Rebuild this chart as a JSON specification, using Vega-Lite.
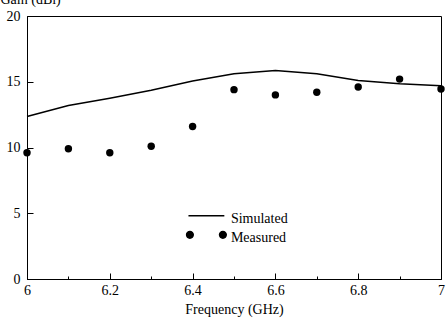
{
  "$schema": "https://vega.github.io/schema/vega-lite/v6.json",
  "width": 414,
  "height": 263,
  "autosize": {"type": "none"},
  "padding": {"left": 27, "top": 16, "right": 5, "bottom": 39},
  "background": "white",
  "config": {
    "font": "Times New Roman",
    "view": {"stroke": "black", "strokeWidth": 1},
    "text": {"font": "Times New Roman"},
    "axis": {
      "domainColor": "black", "tickColor": "black", "labelColor": "black", "titleColor": "black",
      "labelFont": "Times New Roman", "titleFont": "Times New Roman",
      "labelFontSize": 14, "titleFontSize": 14, "titleFontWeight": "normal",
      "grid": false, "domainWidth": 1, "tickWidth": 1, "labelOverlap": false, "labelFlush": false
    },
    "legend": {"labelFont": "Times New Roman"}
  },
  "data": {
    "values": [
      {"freq": 6.0, "gain": 12.35, "series": "Simulated"},
      {"freq": 6.1, "gain": 13.2, "series": "Simulated"},
      {"freq": 6.2, "gain": 13.75, "series": "Simulated"},
      {"freq": 6.3, "gain": 14.35, "series": "Simulated"},
      {"freq": 6.4, "gain": 15.05, "series": "Simulated"},
      {"freq": 6.5, "gain": 15.6, "series": "Simulated"},
      {"freq": 6.6, "gain": 15.85, "series": "Simulated"},
      {"freq": 6.7, "gain": 15.6, "series": "Simulated"},
      {"freq": 6.8, "gain": 15.1, "series": "Simulated"},
      {"freq": 6.9, "gain": 14.85, "series": "Simulated"},
      {"freq": 7.0, "gain": 14.7, "series": "Simulated"},
      {"freq": 6.0, "gain": 9.6, "series": "Measured"},
      {"freq": 6.1, "gain": 9.9, "series": "Measured"},
      {"freq": 6.2, "gain": 9.6, "series": "Measured"},
      {"freq": 6.3, "gain": 10.1, "series": "Measured"},
      {"freq": 6.4, "gain": 11.6, "series": "Measured"},
      {"freq": 6.5, "gain": 14.4, "series": "Measured"},
      {"freq": 6.6, "gain": 14.0, "series": "Measured"},
      {"freq": 6.7, "gain": 14.2, "series": "Measured"},
      {"freq": 6.8, "gain": 14.6, "series": "Measured"},
      {"freq": 6.9, "gain": 15.2, "series": "Measured"},
      {"freq": 7.0, "gain": 14.45, "series": "Measured"}
    ]
  },
  "layer": [
    {
      "transform": [{"filter": "datum.series === 'Simulated'"}],
      "mark": {"type": "line", "color": "black", "strokeWidth": 1.5},
      "encoding": {
        "x": {
          "field": "freq", "type": "quantitative",
          "scale": {"domain": [6, 7], "nice": false, "zero": false},
          "axis": {
            "values": [6, 6.1, 6.2, 6.3, 6.4, 6.5, 6.6, 6.7, 6.8, 6.9, 7],
            "tickSize": {"condition": {"test": "round(datum.value*10) % 2 === 0", "value": -6}, "value": -3},
            "labelExpr": "round(datum.value*10) % 2 === 0 ? format(datum.value, '~g') : ''",
            "labelPadding": 10,
            "title": "Frequency (GHz)",
            "titlePadding": 2
          }
        },
        "y": {
          "field": "gain", "type": "quantitative",
          "scale": {"domain": [0, 20], "nice": false},
          "axis": {
            "values": [0, 2.5, 5, 7.5, 10, 12.5, 15, 17.5, 20],
            "format": "~g",
            "tickSize": {"condition": {"test": "datum.value % 5 === 0", "value": -6}, "value": -3},
            "labelExpr": "datum.value % 5 === 0 ? datum.label : ''",
            "labelPadding": 13,
            "title": "Gain (dBi)",
            "titleAngle": 0,
            "titleAlign": "left",
            "titleBaseline": "alphabetic",
            "titleX": -27,
            "titleY": -13
          }
        }
      }
    },
    {
      "transform": [{"filter": "datum.series === 'Measured'"}],
      "mark": {"type": "point", "filled": true, "color": "black", "size": 55, "opacity": 1},
      "encoding": {
        "x": {"field": "freq", "type": "quantitative"},
        "y": {"field": "gain", "type": "quantitative"}
      }
    },
    {
      "mark": {"type": "point", "filled": true, "color": "black", "opacity": 0},
      "encoding": {
        "x": {"field": "freq", "type": "quantitative"},
        "y": {"field": "gain", "type": "quantitative"},
        "shape": {
          "field": "series", "type": "nominal",
          "scale": {
            "domain": ["Simulated", "Measured"],
            "range": ["M-0.87,-0.166H0.87V-0.094H-0.87Z", "M-1,-0.13A0.2,0.2,0,1,0,-0.6,-0.13A0.2,0.2,0,1,0,-1,-0.13ZM0.6,-0.13A0.2,0.2,0,1,0,1,-0.13A0.2,0.2,0,1,0,0.6,-0.13Z"]
          },
          "legend": {
            "orient": "none",
            "legendX": 158.4,
            "legendY": 193,
            "title": null,
            "padding": 0,
            "clipHeight": 19,
            "rowPadding": 0,
            "labelOffset": 3.5,
            "labelFont": "Times New Roman",
            "labelFontSize": 14,
            "labelColor": "black",
            "symbolSize": 1700,
            "symbolOpacity": 1,
            "symbolFillColor": "black",
            "symbolStrokeColor": "black",
            "symbolStrokeWidth": 0,
            "encode": {
              "symbols": {
                "opacity": {"value": 1},
                "fill": {"value": "black"},
                "size": {"value": 1700}
              }
            }
          }
        }
      }
    }
  ]
}
